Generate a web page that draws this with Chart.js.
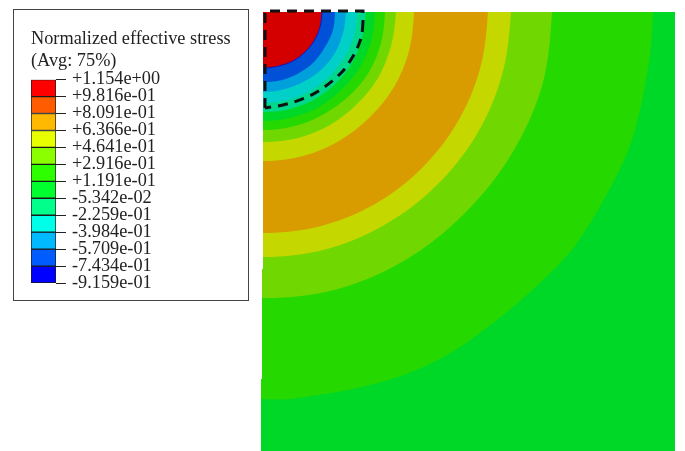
<!DOCTYPE html>
<html>
<head>
<meta charset="utf-8">
<script src="https://cdn.jsdelivr.net/npm/chart.js@4"></script>
<style>
    html, body { margin: 0; padding: 0; background: #fff; }
    #plate { position: absolute; left: 0; top: 0; width: 685px; height: 451px; }
    #legendBox { position: absolute; left: 13px; top: 9px; width: 234px; height: 290px; border: 1px solid #444; background: #fff; }
    canvas { filter: blur(0.45px); }
</style>
</head>
<body>
<div id="plate"><canvas id="plateChart"></canvas></div>
<div id="legendBox"><canvas id="legendChart"></canvas></div>
<script>
const legendTitle = ['Normalized effective stress', '(Avg: 75%)'];
const tickLabels = ['+1.154e+00', '+9.816e-01', '+8.091e-01', '+6.366e-01', '+4.641e-01', '+2.916e-01', '+1.191e-01',
    '-5.342e-02', '-2.259e-01', '-3.984e-01', '-5.709e-01', '-7.434e-01', '-9.159e-01'];
const levels = [1.154, 0.9816, 0.8091, 0.6366, 0.4641, 0.2916, 0.1191, -0.05342, -0.2259, -0.3984, -0.5709, -0.7434, -0.9159];
const legendColors = ['#ff0000', '#ff5c00', '#ffb900', '#e8ff00', '#8bff00', '#2eff00', '#00ff2e', '#00ff8b', '#00ffe8', '#00b9ff', '#005cff', '#0000ff'];

// contours of the plate, outermost first, [distance along top, depth]
// first and last points lie just outside the plate so the curve meets the edges square
const plateOutline = [[-3, 439], [411, 439]];
const contour1 = [[-100, 375], [0, 387], [34, 386], [114, 371], [174, 348], [224, 315], [276, 271], [313, 231], [354, 161], [371, 118], [385, 50], [389, 0], [389, -100]];
const contour2 = [[-74, 277], [0, 286], [74, 277], [143, 247], [201, 201], [247, 143], [278, 74], [288, 0], [288, -74]];
const contour3 = [[-63, 237], [0, 245], [63, 237], [122, 212], [173, 173], [213, 122], [238, 63], [247, 0], [247, -63]];
const contour4 = [[-57, 214], [0, 221], [57, 214], [111, 192], [157, 157], [193, 111], [216, 57], [224, 0], [224, -57]];
const contour5 = [[-39, 144], [0, 149], [39, 144], [75, 129], [106, 105], [130, 75], [145, 39], [150, 0], [150, -39]];
const contour6 = [[-34, 126], [0, 130], [34, 126], [66, 113], [93, 92], [114, 66], [127, 34], [132, 0], [132, -34]];
const contour7 = [[-31, 114], [0, 118], [31, 114], [60, 102], [85, 84], [105, 60], [117, 31], [121, 0], [121, -31]];
const contour8 = [[-29, 105], [0, 109], [29, 105], [55, 95], [78, 77], [96, 55], [107, 29], [111, 0], [111, -29]];
const contour9 = [[-26, 97], [0, 100], [26, 97], [51, 87], [72, 71], [88, 51], [98, 26], [102, 0], [102, -26]];
const contour10 = [[-24, 88], [0, 91], [24, 88], [46, 79], [66, 64], [80, 46], [90, 24], [93, 0], [93, -24]];
const contour11 = [[-21, 77], [0, 80], [21, 77], [41, 69], [58, 57], [71, 41], [79, 21], [82, 0], [82, -21]];
const contour12 = [[-18, 68], [0, 70], [18, 68], [35, 61], [50, 50], [61, 35], [69, 18], [71, 0], [71, -18]];
const contour13 = [[-15, 54], [0, 56], [15, 54], [29, 49], [41, 40], [50, 29], [56, 15], [58, 0], [58, -15]];
const contourList = [plateOutline, contour1, contour2, contour3, contour4, contour5, contour6, contour7, contour8, contour9, contour10, contour11, contour12, contour13];
const contourColors = ['#00d828', '#24d800', '#70d800', '#c4d800', '#d89c00', '#c4d800', '#70d800', '#24d800', '#00d828', '#00d88c', '#00d0c8', '#00a0dc', '#0050d8', '#d40000'];
// white strip where the plate edge steps inwards going up
const plateEdge = [[-3, 367], [-2, 367], [-2, 257], [-1, 257], [-1, 0]];

// dashed zoom region
const dashEdge = [[1, 96], [1, -1], [99, -1], [99, 10]];
const dashArc = [[99, 10], [98, 21], [95, 32], [88, 46], [78, 60], [59, 76], [41, 86], [19, 93], [1, 96]];

const pair = p => ({ x: p[0], y: p[1] });

// lower order is painted on top, so the smaller contours go over the larger ones
const plateDatasets = contourList.map((points, i) => ({
    data: points.map(pair),
    order: 100 - i,
    showLine: true,
    pointRadius: 0,
    borderWidth: i === 13 ? 1 : 0,
    borderColor: i === 13 ? '#1414c0' : contourColors[i],
    backgroundColor: contourColors[i],
    fill: 'origin',
    tension: i === 0 ? 0 : 0.34
}));
plateDatasets.push({ data: plateEdge.map(pair), order: 2, showLine: true, pointRadius: 0, borderWidth: 0, backgroundColor: '#fff', fill: 'origin', tension: 0 });
plateDatasets.push({ data: dashEdge.map(pair), order: 1, clip: false, showLine: true, pointRadius: 0, borderWidth: 3, borderColor: '#111', borderDash: [10, 7], fill: false, tension: 0 });
plateDatasets.push({ data: dashArc.map(pair), order: 0, clip: false, showLine: true, pointRadius: 0, borderWidth: 3, borderColor: '#111', borderDash: [10, 7], fill: false, tension: 0.34 });

new Chart(document.getElementById('plateChart'), {
    type: 'scatter',
    data: { datasets: plateDatasets },
    options: {
        responsive: true,
        maintainAspectRatio: false,
        animation: false,
        layout: { padding: { left: 261, top: 12, right: 10, bottom: 0 } },
        plugins: { legend: { display: false }, tooltip: { enabled: false } },
        scales: {
            x: { type: 'linear', display: false, min: -3, max: 411 },
            y: { type: 'linear', display: false, reverse: true, min: 0, max: 439 }
        }
    }
});

const legendDatasets = legendColors.map((color, i) => ({
    data: [[levels[i + 1], levels[i]]],
    backgroundColor: color,
    borderColor: '#1a1a1a',
    borderWidth: 1,
    borderSkipped: false
}));

new Chart(document.getElementById('legendChart'), {
    type: 'bar',
    data: { labels: ['stress'], datasets: legendDatasets },
    options: {
        responsive: true,
        maintainAspectRatio: false,
        animation: false,
        layout: { padding: { left: 17, top: 0, right: 0, bottom: 15 } },
        datasets: { bar: { grouped: false, barPercentage: 1, categoryPercentage: 1 } },
        plugins: {
            legend: { display: false },
            tooltip: { enabled: false },
            title: {
                display: true,
                text: legendTitle,
                align: 'start',
                color: '#222',
                font: { family: '"Liberation Serif"', size: 18.3, weight: 'normal', lineHeight: 1.22 },
                padding: { top: 18, bottom: 7 }
            }
        },
        scales: {
            x: { display: false },
            y: {
                position: 'right',
                min: levels[12],
                max: levels[0],
                afterBuildTicks: axis => { axis.ticks = levels.map(v => ({ value: v })); },
                afterFit: axis => { axis.width = 192; },
                grid: { drawOnChartArea: false, drawTicks: true, tickLength: 10, color: '#222' },
                border: { display: false },
                ticks: {
                    autoSkip: false,
                    padding: 6,
                    color: '#222',
                    font: { family: '"Liberation Serif"', size: 18.3 },
                    callback: (v, i) => tickLabels[i]
                }
            }
        }
    }
});
</script>
</body>
</html>
